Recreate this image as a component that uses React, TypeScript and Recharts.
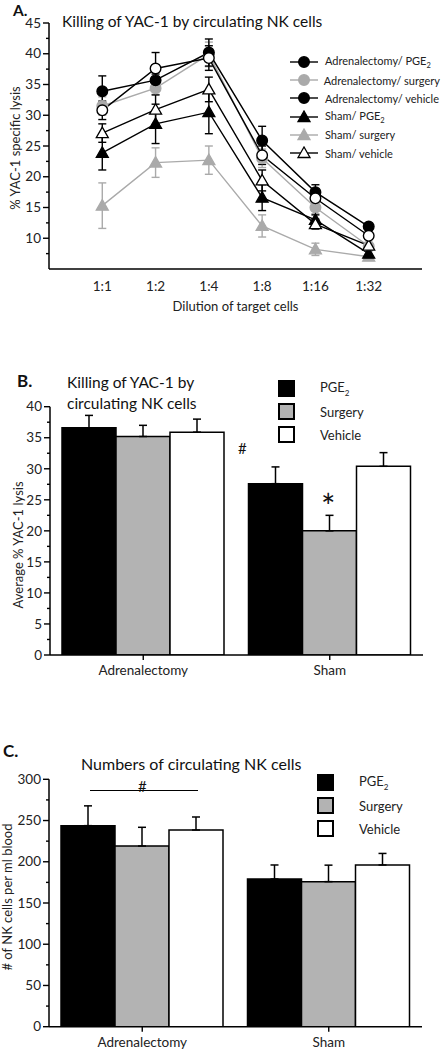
import React from 'react'
import { LineChart, Line, BarChart, Bar, XAxis, YAxis, ErrorBar, Legend, Label } from 'recharts'

const FONT = 'Lato, "Open Sans", sans-serif'
const INK = '#222'
const GRAY = '#aaaaaa'
const BAR_GRAY = '#b3b3b3'

// panel A: % YAC-1 specific lysis by dilution
const dilutions = ['1:1', '1:2', '1:4', '1:8', '1:16', '1:32']
const adxPge = [33.9, 35.7, 40.2, 25.9, 17.5, 11.9]
const adxPgeErr = [2.5, 1.0, 2.2, 2.3, 1.2, 0.5]
const adxSurgery = [31.5, 34.4, 39.9, 23.0, 15.0, 8.7]
const adxSurgeryErr = [1.5, 1.0, 2.0, 1.5, 1.0, 0.5]
const adxVehicle = [30.8, 37.6, 39.3, 23.5, 16.5, 10.4]
const adxVehicleErr = [1.5, 2.6, 2.0, 1.5, 1.0, 0.5]
const shamPge = [23.9, 28.6, 30.5, 16.6, 13.0, 7.5]
const shamPgeErr = [2.8, 3.2, 3.5, 2.1, 0.8, 0.5]
const shamSurgery = [15.3, 22.3, 22.7, 12.0, 8.2, 7.0]
const shamSurgeryErr = [3.7, 2.4, 2.3, 1.8, 1.0, 0.4]
const shamVehicle = [27.1, 30.9, 34.2, 19.4, 12.3, 8.8]
const shamVehicleErr = [1.5, 2.4, 2.0, 1.7, 0.8, 0.5]

// panels B and C
const groups = ['Adrenalectomy', 'Sham']
const lysisPge = [36.6, 27.6]
const lysisPgeErr = [2.0, 2.7]
const lysisSurgery = [35.2, 20.0]
const lysisSurgeryErr = [1.8, 2.5]
const lysisVehicle = [35.9, 30.4]
const lysisVehicleErr = [2.1, 2.2]
const nkPge = [243.8, 179.1]
const nkPgeErr = [24, 17]
const nkSurgery = [219.1, 175.9]
const nkSurgeryErr = [22.7, 20]
const nkVehicle = [238.5, 196.1]
const nkVehicleErr = [15.8, 14]

const lysisTicks = [7.5, 10, 12.5, 15, 17.5, 20, 22.5, 25, 27.5, 30, 32.5, 35, 37.5, 40, 42.5, 45]
const avgTicks = [0, 2.5, 5, 7.5, 10, 12.5, 15, 17.5, 20, 22.5, 25, 27.5, 30, 32.5, 35, 37.5, 40]
const nkTicks = [0, 25, 50, 75, 100, 125, 150, 175, 200, 225, 250, 275, 300]

const lineRows = dilutions.map((d, i) => ({
  pos: i + 1,
  adxPge: adxPge[i], adxPgeErr: adxPgeErr[i],
  adxSurgery: adxSurgery[i], adxSurgeryErr: adxSurgeryErr[i],
  adxVehicle: adxVehicle[i], adxVehicleErr: adxVehicleErr[i],
  shamPge: shamPge[i], shamPgeErr: shamPgeErr[i],
  shamSurgery: shamSurgery[i], shamSurgeryErr: shamSurgeryErr[i],
  shamVehicle: shamVehicle[i], shamVehicleErr: shamVehicleErr[i],
}))

const avgRows = groups.map((g, i) => ({
  group: g,
  pge: lysisPge[i], pgeErr: [0, lysisPgeErr[i]],
  surgery: lysisSurgery[i], surgeryErr: [0, lysisSurgeryErr[i]],
  vehicle: lysisVehicle[i], vehicleErr: [0, lysisVehicleErr[i]],
}))

const nkRows = groups.map((g, i) => ({
  group: g,
  pge: nkPge[i], pgeErr: [0, nkPgeErr[i]],
  surgery: nkSurgery[i], surgeryErr: [0, nkSurgeryErr[i]],
  vehicle: nkVehicle[i], vehicleErr: [0, nkVehicleErr[i]],
}))

// draw order: black/open markers last so they sit on top
const lineSeries = [
  { key: 'shamSurgery', shape: 'triangle', stroke: GRAY, fill: GRAY },
  { key: 'adxSurgery', shape: 'circle', stroke: GRAY, fill: GRAY },
  { key: 'shamPge', shape: 'triangle', stroke: '#000', fill: '#000' },
  { key: 'adxPge', shape: 'circle', stroke: '#000', fill: '#000' },
  { key: 'shamVehicle', shape: 'triangle', stroke: '#000', fill: '#fff' },
  { key: 'adxVehicle', shape: 'circle', stroke: '#000', fill: '#fff' },
]

const lineLegend = [
  { label: 'Adrenalectomy/ PGE', sub: '2', shape: 'circle', stroke: '#000', fill: '#000' },
  { label: 'Adrenalectomy/ surgery', shape: 'circle', stroke: GRAY, fill: GRAY },
  { label: 'Adrenalectomy/ vehicle', shape: 'circle', stroke: '#000', fill: '#000' },
  { label: 'Sham/ PGE', sub: '2', shape: 'triangle', stroke: '#000', fill: '#000' },
  { label: 'Sham/ surgery', shape: 'triangle', stroke: GRAY, fill: GRAY },
  { label: 'Sham/ vehicle', shape: 'triangle', stroke: '#000', fill: '#fff' },
]

const barLegend = [
  { label: 'PGE', sub: '2', fill: '#000' },
  { label: 'Surgery', fill: BAR_GRAY },
  { label: 'Vehicle', fill: '#fff' },
]

function Marker({ cx, cy, shape, stroke, fill }: any) {
  if (cx == null || cy == null) return null
  if (shape === 'circle') {
    return <circle cx={cx} cy={cy} r={5.3} fill={fill} stroke={stroke} strokeWidth={1.4} />
  }
  const s = 6
  return (
    <polygon
      points={`${cx},${cy - s} ${cx - s},${cy + s * 0.75} ${cx + s},${cy + s * 0.75}`}
      fill={fill}
      stroke={stroke}
      strokeWidth={1.3}
    />
  )
}

function YTick({ x, y, payload, step }: any) {
  const v = payload.value
  const major = Math.abs(v / step - Math.round(v / step)) < 1e-6
  return (
    <g>
      <line x1={x - (major ? 6 : 3)} x2={x} y1={y} y2={y} stroke="#000" strokeWidth={1.4} />
      {major && (
        <text x={x - 8} y={y} dy="0.35em" textAnchor="end" fontSize={13.5} fill={INK}>
          {v}
        </text>
      )}
    </g>
  )
}

function YTitle({ x, y, text }: any) {
  return (
    <text x={x} y={y} transform={`rotate(-90, ${x}, ${y})`} textAnchor="middle" dominantBaseline="central" fontSize={13} fill={INK}>
      {text}
    </text>
  )
}

function LineLegend() {
  return (
    <div style={{ fontSize: 11, color: INK }}>
      {lineLegend.map((it) => (
        <div key={it.label} style={{ display: 'flex', alignItems: 'center', height: 18.2, whiteSpace: 'nowrap' }}>
          <svg width={30} height={14}>
            <line x1={0} x2={28} y1={7} y2={7} stroke={it.stroke} strokeWidth={1.4} />
            <Marker cx={14} cy={7} shape={it.shape} stroke={it.stroke} fill={it.fill} />
          </svg>
          <span style={{ marginLeft: 5 }}>
            {it.label}
            {it.sub && <sub style={{ fontSize: 7.5 }}>{it.sub}</sub>}
          </span>
        </div>
      ))}
    </div>
  )
}

function BarLegend({ gap }: any) {
  return (
    <div style={{ fontSize: 13, color: INK }}>
      {barLegend.map((it) => (
        <div key={it.label} style={{ display: 'flex', alignItems: 'center', height: 23, whiteSpace: 'nowrap' }}>
          <div style={{ width: 13, height: 13, border: '2px solid #000', background: it.fill }} />
          <span style={{ marginLeft: gap }}>
            {it.label}
            {it.sub && <sub style={{ fontSize: 8 }}>{it.sub}</sub>}
          </span>
        </div>
      ))}
    </div>
  )
}

function Abs({ left, top, size, bold, lh = 21, children }: any) {
  return (
    <div style={{ position: 'absolute', left, top, fontSize: size, fontWeight: bold ? 700 : 400, color: '#111', lineHeight: `${lh}px`, whiteSpace: 'nowrap' }}>
      {children}
    </div>
  )
}

function groupBars() {
  return [
    <Bar key="pge" dataKey="pge" fill="#000" stroke="#000" strokeWidth={1.5} isAnimationActive={false}>
      <ErrorBar dataKey="pgeErr" direction="y" width={4} stroke="#000" strokeWidth={1.5} />
    </Bar>,
    <Bar key="surgery" dataKey="surgery" fill={BAR_GRAY} stroke="#000" strokeWidth={1.5} isAnimationActive={false}>
      <ErrorBar dataKey="surgeryErr" direction="y" width={4} stroke="#000" strokeWidth={1.5} />
    </Bar>,
    <Bar key="vehicle" dataKey="vehicle" fill="#fff" stroke="#000" strokeWidth={1.5} isAnimationActive={false}>
      <ErrorBar dataKey="vehicleErr" direction="y" width={4} stroke="#000" strokeWidth={1.5} />
    </Bar>,
  ]
}

export default function App() {
  return (
    <div style={{ position: 'absolute', left: 0, top: 0, width: 443, height: 1050, background: '#fff', fontFamily: FONT, overflow: 'hidden' }}>
      {/* Panel A */}
      <div style={{ position: 'absolute', left: 0, top: 0 }}>
        <LineChart width={443} height={320} data={lineRows} margin={{ top: 23, right: 21, left: 9, bottom: 0 }}>
          <XAxis
            type="number"
            dataKey="pos"
            domain={[0, 7]}
            ticks={[1, 2, 3, 4, 5, 6]}
            interval={0}
            tickFormatter={(v: number) => dilutions[v - 1]}
            tickLine={false}
            tickSize={0}
            tickMargin={12}
            height={51}
            axisLine={{ stroke: '#000', strokeWidth: 1.5 }}
            tick={{ fontSize: 13.5, fill: INK }}
          >
            <Label value="Dilution of target cells" position="insideBottom" offset={9} fontSize={13} fill={INK} />
          </XAxis>
          <YAxis
            type="number"
            domain={[5, 45]}
            allowDataOverflow
            ticks={lysisTicks}
            interval={0}
            width={40}
            tickSize={0}
            tickMargin={0}
            tickLine={false}
            axisLine={{ stroke: '#000', strokeWidth: 1.5 }}
            tick={(p: any) => <YTick {...p} step={5} />}
          >
            <Label content={() => <YTitle x={15} y={148} text="% YAC-1 specific lysis" />} />
          </YAxis>
          {lineSeries.map((s) => (
            <Line
              key={s.key}
              dataKey={s.key}
              stroke={s.stroke}
              strokeWidth={1.4}
              isAnimationActive={false}
              dot={(p: any) => <Marker key={`${s.key}-${p.index}`} cx={p.cx} cy={p.cy} shape={s.shape} stroke={s.stroke} fill={s.fill} />}
              activeDot={false}
            >
              <ErrorBar dataKey={`${s.key}Err`} direction="y" width={4} stroke={s.stroke} strokeWidth={1.4} />
            </Line>
          ))}
          <Legend layout="vertical" align="center" verticalAlign="middle" wrapperStyle={{ left: 290, top: 53, width: 150 }} content={() => <LineLegend />} />
        </LineChart>
      </div>
      <Abs left={13} top={1} size={15.5} lh={19} bold>A.</Abs>
      <Abs left={62} top={11} size={15.5}>Killing of YAC-1 by circulating NK cells</Abs>

      {/* Panel B */}
      <div style={{ position: 'absolute', left: 0, top: 370 }}>
        <BarChart width={443} height={320} data={avgRows} margin={{ top: 36.7, right: 20, left: 10, bottom: 0 }} barGap={0} barCategoryGap={12}>
          <XAxis
            dataKey="group"
            height={35}
            tickSize={5}
            tickMargin={5}
            tickLine={{ stroke: '#000', strokeWidth: 1.4 }}
            axisLine={{ stroke: '#000', strokeWidth: 1.5 }}
            tick={{ fontSize: 13.5, fill: INK }}
          />
          <YAxis
            type="number"
            domain={[0, 40]}
            allowDataOverflow
            ticks={avgTicks}
            interval={0}
            width={40}
            tickSize={0}
            tickMargin={0}
            tickLine={false}
            axisLine={{ stroke: '#000', strokeWidth: 1.5 }}
            tick={(p: any) => <YTick {...p} step={5} />}
          >
            <Label content={() => <YTitle x={18} y={175} text="Average % YAC-1 lysis" />} />
          </YAxis>
          {groupBars()}
          <Legend layout="vertical" align="center" verticalAlign="middle" wrapperStyle={{ left: 278, top: 7, width: 120 }} content={() => <BarLegend gap={25} />} />
        </BarChart>
      </div>
      <Abs left={17} top={370} size={17} bold>B.</Abs>
      <Abs left={67} top={372} size={15.5}>Killing of YAC-1 by<br />circulating NK cells</Abs>
      <Abs left={238} top={438} size={15}>#</Abs>
      <Abs left={321} top={495} size={34}>*</Abs>

      {/* Panel C */}
      <div style={{ position: 'absolute', left: 0, top: 740 }}>
        <BarChart width={443} height={310} data={nkRows} margin={{ top: 39.3, right: 21, left: 9, bottom: 0 }} barGap={0} barCategoryGap={12}>
          <XAxis
            dataKey="group"
            height={23.3}
            tickSize={5}
            tickMargin={6}
            tickLine={{ stroke: '#000', strokeWidth: 1.4 }}
            axisLine={{ stroke: '#000', strokeWidth: 1.5 }}
            tick={{ fontSize: 13.5, fill: INK }}
          />
          <YAxis
            type="number"
            domain={[0, 300]}
            allowDataOverflow
            ticks={nkTicks}
            interval={0}
            width={40}
            tickSize={0}
            tickMargin={0}
            tickLine={false}
            axisLine={{ stroke: '#000', strokeWidth: 1.5 }}
            tick={(p: any) => <YTick {...p} step={50} />}
          >
            <Label content={() => <YTitle x={7} y={157} text="# of NK cells per ml blood" />} />
          </YAxis>
          {groupBars()}
          <Legend layout="vertical" align="center" verticalAlign="middle" wrapperStyle={{ left: 317, top: 31, width: 120 }} content={() => <BarLegend gap={25} />} />
        </BarChart>
      </div>
      <Abs left={3} top={740} size={17} bold>C.</Abs>
      <Abs left={81} top={753} size={16}>Numbers of circulating NK cells</Abs>
      <div style={{ position: 'absolute', left: 90, top: 790, width: 108, borderTop: '1.5px solid #000' }} />
      <Abs left={138} top={776} size={15}>#</Abs>
    </div>
  )
}
